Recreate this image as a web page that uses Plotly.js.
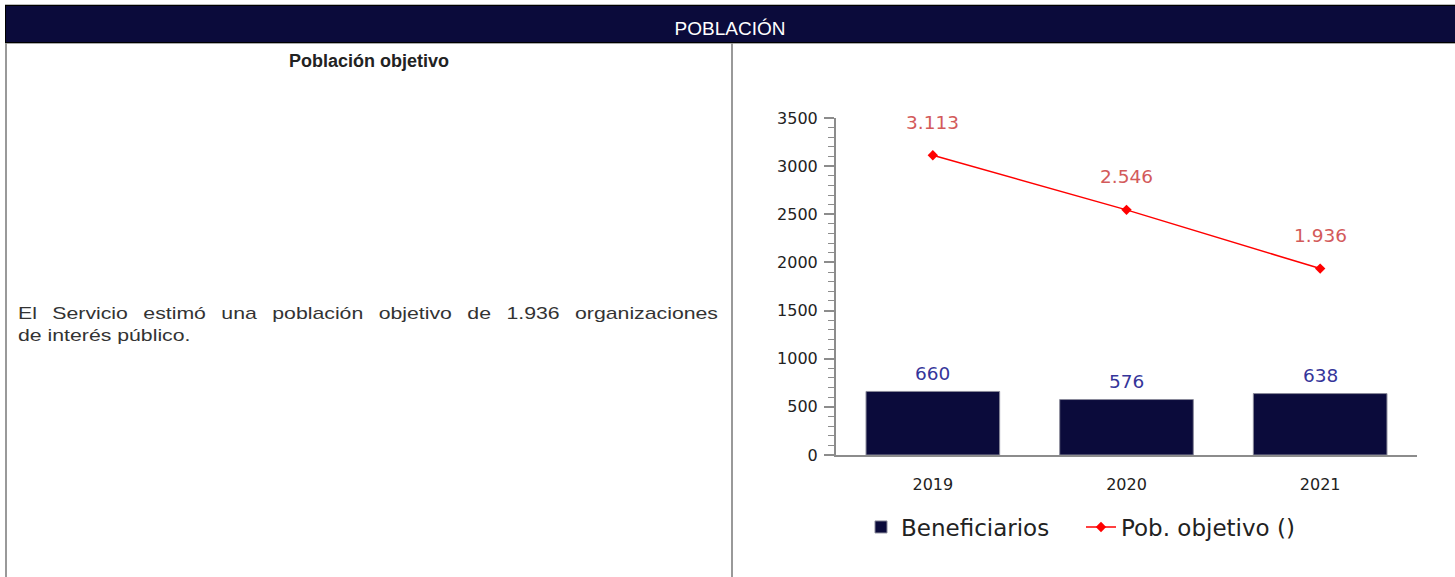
<!DOCTYPE html>
<html>
<head>
<meta charset="utf-8">
<script src="https://cdn.plot.ly/plotly-3.0.1.min.js"></script>
<style>
  html, body { margin: 0; padding: 0; background: #fff; width: 1455px; height: 577px; overflow: hidden; }
  #header { position: absolute; left: 5px; top: 5px; width: 1450px; height: 38px; background: #0b0b3b;
            border-top: 1px solid #000; border-left: 1px solid #000; border-bottom: 1px solid #000; box-sizing: border-box; }
  #headerText { position: absolute; left: 5px; top: 10px; width: 1450px; height: 37px; line-height: 37px;
            text-align: center; color: #fff; font-family: "Liberation Sans", Arial, sans-serif; font-size: 19px; }
  #topline { position: absolute; left: 5px; top: 4px; width: 1450px; height: 1px; background: #bbb; }
  #botline { position: absolute; left: 5px; top: 43px; width: 1450px; height: 1px; background: #aaa; }
  #leftline { position: absolute; left: 5px; top: 43px; width: 2px; height: 534px; background: #999; }
  #midline { position: absolute; left: 731px; top: 43px; width: 2px; height: 534px; background: #999; }
  #heading { position: absolute; left: 7px; top: 51px; width: 724px; text-align: center;
            font-family: "Liberation Sans", Arial, sans-serif; font-weight: bold; font-size: 18px; color: #222; }
  .body { position: absolute; left: 18px; width: 560px; transform: scaleX(1.25); transform-origin: 0 0;
            font-family: "Liberation Sans", Arial, sans-serif; font-size: 17px; line-height: 22px; color: #333; }
  #body1 { top: 303px; text-align: justify; text-align-last: justify; }
  #body2 { top: 325px; text-align: left; }
  #chart { position: absolute; left: 0; top: 0; width: 1455px; height: 577px; }
</style>
</head>
<body>
<div id="topline"></div>
<div id="header"></div>
<div id="headerText">POBLACIÓN</div>
<div id="botline"></div>
<div id="leftline"></div>
<div id="midline"></div>
<div id="heading">Población objetivo</div>
<div class="body" id="body1">El Servicio estimó una población objetivo de 1.936 organizaciones</div>
<div class="body" id="body2">de interés público.</div>
<div id="chart"></div>
<script>
var years = ['2019', '2020', '2021'];
var beneficiarios = [660, 576, 638];
var pobObjetivo = [3113, 2546, 1936];
var yTicks = [0, 500, 1000, 1500, 2000, 2500, 3000, 3500];

function fmt(v) {
  return String(v).replace(/\B(?=(\d{3})+(?!\d))/g, '.');
}

var W = 1455, H = 577;
function px(x) { return x / W; }
function py(y) { return 1 - y / H; }

var traces = [
  {
    type: 'bar', name: 'Beneficiarios', x: years, y: beneficiarios,
    marker: { color: '#0b0b3b', line: { color: '#8a8a9a', width: 1 } },
    hoverinfo: 'none'
  },
  {
    type: 'scatter', mode: 'lines+markers', name: 'Pob. objetivo ()', x: years, y: pobObjetivo,
    line: { color: '#ff0000', width: 1.5 },
    marker: { symbol: 'diamond', size: 8, color: '#ff0000' },
    hoverinfo: 'none'
  }
];

var annotations = [];
years.forEach(function (yr, i) {
  annotations.push({ x: i, y: beneficiarios[i], xref: 'x', yref: 'y', text: fmt(beneficiarios[i]),
    showarrow: false, yshift: 18, font: { family: 'DejaVu Sans', size: 18.5, color: '#35359a' } });
  annotations.push({ x: i, y: pobObjetivo[i], xref: 'x', yref: 'y', text: fmt(pobObjetivo[i]),
    showarrow: false, yshift: 33, font: { family: 'DejaVu Sans', size: 18.5, color: '#d35a5a' } });
});

var layout = {
  width: W, height: H,
  margin: { l: 0, r: 0, t: 0, b: 0 },
  paper_bgcolor: 'rgba(0,0,0,0)', plot_bgcolor: 'rgba(0,0,0,0)',
  showlegend: true,
  bargap: 0.31,
  xaxis: {
    domain: [px(836), px(1417)],
    type: 'category', range: [-0.5, 2.5], autorange: false,
    showline: true, linecolor: '#8c8c8c', linewidth: 2,
    ticks: '', showgrid: false, zeroline: false,
    ticklabelstandoff: 14,
    tickfont: { family: 'DejaVu Sans', size: 16, color: '#222' }
  },
  yaxis: {
    domain: [py(455), py(118)],
    range: [0, 3500], autorange: false,
    tickvals: yTicks, ticktext: yTicks.map(String),
    showline: true, linecolor: '#8c8c8c', linewidth: 2,
    ticks: 'outside', ticklen: 10, tickcolor: '#8c8c8c', tickwidth: 2,
    ticklabelstandoff: 3,
    minor: { dtick: 100, ticks: 'outside', ticklen: 6, tickcolor: '#8c8c8c', tickwidth: 1, showgrid: false },
    showgrid: false, zeroline: false,
    tickfont: { family: 'DejaVu Sans', size: 16, color: '#222' }
  },
  legend: {
    orientation: 'h', x: px(861), xanchor: 'left', y: py(527), yanchor: 'middle',
    font: { family: 'DejaVu Sans', size: 23, color: '#222' },
    entrywidth: 175,
    bgcolor: 'rgba(0,0,0,0)', traceorder: 'normal'
  },
  annotations: annotations
};

Plotly.newPlot('chart', traces, layout, { staticPlot: true, displayModeBar: false });
</script>
</body>
</html>
